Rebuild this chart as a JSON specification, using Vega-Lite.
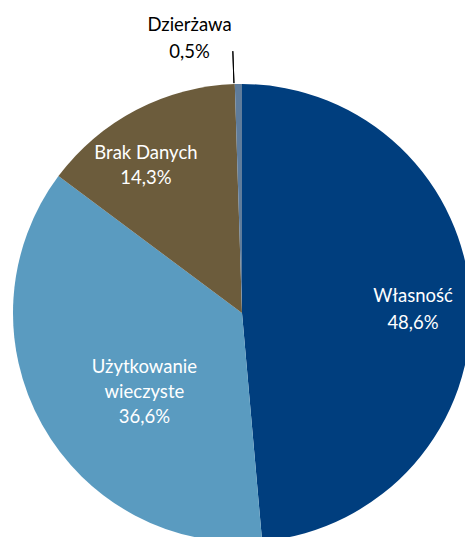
{
  "$schema": "https://vega.github.io/schema/vega-lite/v6.json",
  "width": 484,
  "height": 626,
  "autosize": "none",
  "padding": 0,
  "background": "white",
  "config": {"view": {"stroke": null}},
  "data": {
    "values": [
      {"category": "Własność", "value": 48.6, "rank": 1, "label": "Własność\n48,6%"},
      {"category": "Użytkowanie wieczyste", "value": 36.6, "rank": 2, "label": "Użytkowanie\nwieczyste\n36,6%"},
      {"category": "Brak Danych", "value": 14.3, "rank": 3, "label": "Brak Danych\n14,3%"},
      {"category": "Dzierżawa", "value": 0.5, "rank": 4, "label": "Dzierżawa\n0,5%"}
    ]
  },
  "layer": [
    {
      "mark": {"type": "arc", "outerRadius": 229},
      "encoding": {
        "theta": {"field": "value", "type": "quantitative", "stack": true},
        "order": {"field": "rank", "type": "quantitative"},
        "color": {
          "field": "category",
          "type": "nominal",
          "scale": {
            "domain": ["Własność", "Użytkowanie wieczyste", "Brak Danych", "Dzierżawa"],
            "range": ["#003E7E", "#5A9BC0", "#6C5C3C", "#5F7C9B"]
          },
          "legend": null
        }
      }
    },
    {
      "mark": {"type": "text", "font": "Lato", "fontSize": 18.5, "fill": "white", "lineBreak": "\n", "lineHeight": 27, "baseline": "middle", "radius": 170, "thetaOffset": 0.056, "dy": -19, "dx": 1},
      "encoding": {
        "theta": {"field": "value", "type": "quantitative", "stack": true},
        "order": {"field": "rank", "type": "quantitative"},
        "text": {"condition": {"test": "datum.category === 'Własność'", "field": "label"}, "value": ""}
      }
    },
    {
      "mark": {"type": "text", "font": "Lato", "fontSize": 18.5, "fill": "white", "lineBreak": "\n", "lineHeight": 25, "baseline": "middle", "radius": 131, "thetaOffset": -0.098, "dy": -21, "dx": 10},
      "encoding": {
        "theta": {"field": "value", "type": "quantitative", "stack": true},
        "order": {"field": "rank", "type": "quantitative"},
        "text": {"condition": {"test": "datum.category === 'Użytkowanie wieczyste'", "field": "label"}, "value": ""}
      }
    },
    {
      "mark": {"type": "text", "font": "Lato", "fontSize": 18.5, "fill": "white", "lineBreak": "\n", "lineHeight": 25, "baseline": "middle", "radius": 177, "thetaOffset": -0.093, "dy": -11},
      "encoding": {
        "theta": {"field": "value", "type": "quantitative", "stack": true},
        "order": {"field": "rank", "type": "quantitative"},
        "text": {"condition": {"test": "datum.category === 'Brak Danych'", "field": "label"}, "value": ""}
      }
    },
    {
      "mark": {"type": "text", "font": "Lato", "fontSize": 18.5, "fill": "#000000", "lineBreak": "\n", "lineHeight": 27, "baseline": "middle", "radius": 287, "thetaOffset": -0.2, "dy": -8, "dx": 9},
      "encoding": {
        "theta": {"field": "value", "type": "quantitative", "stack": true},
        "order": {"field": "rank", "type": "quantitative"},
        "text": {"condition": {"test": "datum.category === 'Dzierżawa'", "field": "label"}, "value": ""}
      }
    },
    {
      "transform": [{"filter": "datum.category === 'Dzierżawa'"}],
      "mark": {"type": "arc", "theta": -0.035, "theta2": -0.035, "innerRadius": 230, "outerRadius": 262, "fill": null, "stroke": "#000000", "strokeWidth": 1},
      "encoding": {}
    }
  ]
}
